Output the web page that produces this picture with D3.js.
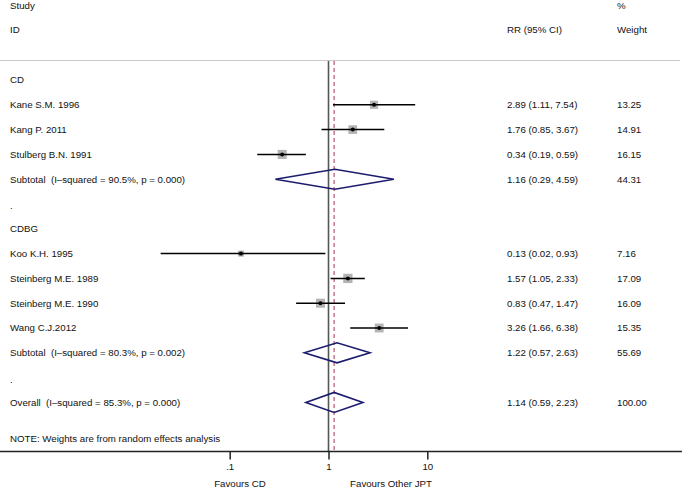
<!DOCTYPE html>
<html><head><meta charset="utf-8">
<script src="https://cdn.jsdelivr.net/npm/d3@7"></script>
<style>
body{margin:0;background:#fff;}
svg text{font-family:"Liberation Sans",Arial,Helvetica,sans-serif;font-size:9.7px;fill:#111;white-space:pre;}
</style></head>
<body><svg id="c" width="682" height="488"></svg>
<script>
// ---- data ----
const studyNames = ["Kane S.M. 1996","Kang P. 2011","Stulberg B.N. 1991","Koo K.H. 1995","Steinberg M.E. 1989","Steinberg M.E. 1990","Wang C.J.2012"];
const studyGroup = ["CD","CD","CD","CDBG","CDBG","CDBG","CDBG"];
const studyRR   = [2.89, 1.76, 0.34, 0.13, 1.57, 0.83, 3.26];
const studyLow  = [1.11, 0.85, 0.19, 0.02, 1.05, 0.47, 1.66];
const studyHigh = [7.54, 3.67, 0.59, 0.93, 2.33, 1.47, 6.38];
const studyWeight = ["13.25","14.91","16.15","7.16","17.09","16.09","15.35"];
const groups = ["CD","CDBG"];
const pooledLabels = ["Subtotal  (I\u2013squared = 90.5%, p = 0.000)","Subtotal  (I\u2013squared = 80.3%, p = 0.002)","Overall  (I\u2013squared = 85.3%, p = 0.000)"];
const pooledRR   = [1.16, 1.22, 1.14];
const pooledLow  = [0.29, 0.57, 0.59];
const pooledHigh = [4.59, 2.63, 2.23];
const pooledWeight = ["44.31","55.69","100.00"];
const tickValues = [0.1, 1, 10];
const tickLabels = [".1", "1", "10"];
const axisTitles = ["Favours CD", "Favours Other JPT"];
const note = "NOTE: Weights are from random effects analysis";

// ---- build rows ----
const rows = [];
groups.forEach((g, gi) => {
  rows.push({type:"head", label:g});
  studyNames.forEach((n, i) => {
    if (studyGroup[i] === g) rows.push({type:"study", label:n, rr:studyRR[i], lo:studyLow[i], hi:studyHigh[i], w:studyWeight[i]});
  });
  rows.push({type:"pool", label:pooledLabels[gi], rr:pooledRR[gi], lo:pooledLow[gi], hi:pooledHigh[gi], w:pooledWeight[gi]});
  rows.push({type:"blank", label:"."});
});
rows.push({type:"pool", label:pooledLabels[2], rr:pooledRR[2], lo:pooledLow[2], hi:pooledHigh[2], w:pooledWeight[2]});

const fmt = d3.format(".2f");
const svg = d3.select("#c");
const x = d3.scaleLog().domain([0.1, 10]).range([229.7, 427.3]);
const y = d3.scaleLinear().domain([0, rows.length - 1]).range([80, 402.4]);
const side = d3.scaleSqrt().domain([0, 20]).range([0, 10.06]);
const axisY = 451.5, topY = 61;
const colLeft = 10, colRR = 507, colW = 617;

// headers
const hdr = svg.append("g");
hdr.append("text").attr("x", colLeft).attr("y", 6).attr("dy","0.35em").text("Study");
hdr.append("text").attr("x", colLeft).attr("y", 30).attr("dy","0.35em").text("ID");
hdr.append("text").attr("x", colRR).attr("y", 30).attr("dy","0.35em").text("RR (95% CI)");
hdr.append("text").attr("x", colW).attr("y", 6).attr("dy","0.35em").text("%");
hdr.append("text").attr("x", colW).attr("y", 30).attr("dy","0.35em").text("Weight");
svg.append("line").attr("x1",0).attr("x2",680).attr("y1",60.5).attr("y2",60.5).attr("stroke","#c8c8c8").attr("stroke-width",1);

// null line and overall dashed line
svg.append("line").attr("x1",x(1)).attr("x2",x(1)).attr("y1",topY).attr("y2",axisY).attr("stroke","#555").attr("stroke-width",1.6);
svg.append("line").attr("x1",x(pooledRR[2])).attr("x2",x(pooledRR[2])).attr("y1",topY).attr("y2",axisY)
  .attr("stroke","#a8324f").attr("stroke-width",1).attr("stroke-dasharray","4,3");

// rows
const g = svg.append("g");
rows.forEach((r, i) => {
  const yy = y(i);
  g.append("text").attr("x", colLeft).attr("y", r.type === "blank" ? yy + 2 : yy).attr("dy","0.35em").text(r.label);
  if (r.type === "study") {
    const s = side(+r.w);
    g.append("rect").attr("x", x(r.rr) - s/2).attr("y", yy - s/2).attr("width", s).attr("height", s).attr("fill","#b4b4b4");
    g.append("line").attr("x1", x(r.lo)).attr("x2", x(r.hi)).attr("y1", yy).attr("y2", yy).attr("stroke","#000").attr("stroke-width",1.5);
    g.append("circle").attr("cx", x(r.rr)).attr("cy", yy).attr("r", 2).attr("fill","#000");
  }
  if (r.type === "pool") {
    const pts = [[x(r.lo), yy],[x(r.rr), yy - 10],[x(r.hi), yy],[x(r.rr), yy + 10]];
    g.append("path").attr("d", d3.line()(pts) + "Z").attr("fill","none").attr("stroke","#1c1c6e").attr("stroke-width",1.6);
  }
  if (r.type === "study" || r.type === "pool") {
    g.append("text").attr("x", colRR).attr("y", yy).attr("dy","0.35em").text(`${fmt(r.rr)} (${fmt(r.lo)}, ${fmt(r.hi)})`);
    g.append("text").attr("x", colW).attr("y", yy).attr("dy","0.35em").text(r.w);
  }
});

svg.append("text").attr("x", colLeft).attr("y", 439).attr("dy","0.35em").text(note);

// axis
svg.append("line").attr("x1",0).attr("x2",682).attr("y1",axisY).attr("y2",axisY).attr("stroke","#222").attr("stroke-width",1.5);
const ax = svg.append("g").attr("transform",`translate(0,${axisY})`)
  .call(d3.axisBottom(x).tickValues(tickValues).tickFormat((d,i)=>tickLabels[i]).tickSize(8).tickPadding(4));
ax.select(".domain").remove();
ax.selectAll(".tick line").attr("stroke","#222").attr("stroke-width",1.5);
ax.selectAll(".tick text").attr("fill","#111").style("font-size","9.7px").style("font-family",null);
svg.append("text").attr("x", 240).attr("y", 484).attr("dy","0.35em").attr("text-anchor","middle").text(axisTitles[0]);
svg.append("text").attr("x", 391).attr("y", 484).attr("dy","0.35em").attr("text-anchor","middle").text(axisTitles[1]);
</script></body></html>
